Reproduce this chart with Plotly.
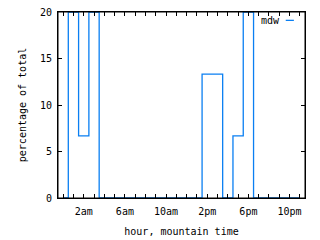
import plotly.graph_objects as go

hours = list(range(24))
percent = [0, 20, 6.67, 20, 0, 0, 0, 0, 0, 0, 0, 0, 0, 0,
           13.33, 13.33, 0, 6.67, 20, 0, 0, 0, 0, 0]
tick_hours = [2, 6, 10, 14, 18, 22]
tick_labels = ["2am", "6am", "10am", "2pm", "6pm", "10pm"]
y_ticks = [0, 5, 10, 15, 20]
series_name = "mdw"

BLUE = "#0a7ff2"
FONT = dict(family="DejaVu Sans Mono", size=10, color="black")

fig = go.Figure()
fig.add_trace(go.Scatter(
    x=hours, y=percent, mode="lines", line_shape="hvh",
    line=dict(color=BLUE, width=1.3), name=series_name, showlegend=False,
))

fig.update_layout(
    width=320, height=240,
    margin=dict(l=58, r=15, t=12, b=42),
    paper_bgcolor="white", plot_bgcolor="white",
    font=FONT,
    xaxis=dict(
        range=[-0.5, 23.5], tickvals=tick_hours, ticktext=tick_labels,
        ticks="inside", ticklen=4, tickcolor="black", tickwidth=1,
        showline=True, linecolor="black", linewidth=1, mirror="ticks",
        showgrid=False, zeroline=False, automargin=False,
        ticklabelstandoff=4,
        minor=dict(dtick=1, tick0=0, ticks="inside", ticklen=4, tickcolor="black", showgrid=False),
        title=dict(text="hour, mountain time", font=FONT, standoff=11),
        tickfont=FONT,
    ),
    yaxis=dict(
        range=[0, 20], tickvals=y_ticks,
        ticks="inside", ticklen=4, tickcolor="black", tickwidth=1,
        showline=True, linecolor="black", linewidth=1, mirror="ticks",
        showgrid=False, zeroline=False, automargin=False,
        ticklabelstandoff=3,
        title=dict(text="percentage of total", font=FONT, standoff=11),
        tickfont=FONT,
    ),
)

# frame drawn above the data (as gnuplot's border)
fig.add_shape(type="rect", xref="paper", yref="paper", x0=0, x1=1, y0=0, y1=1,
              line=dict(color="black", width=1), layer="above")

fig.add_annotation(text=series_name, xref="paper", yref="paper",
                   x=0.905, y=0.955, xanchor="right", yanchor="middle",
                   showarrow=False, font=FONT)
fig.add_shape(type="line", xref="paper", yref="paper",
              x0=0.922, x1=0.955, y0=0.955, y1=0.955,
              line=dict(color=BLUE, width=1.3))

fig.write_html("out.html")
